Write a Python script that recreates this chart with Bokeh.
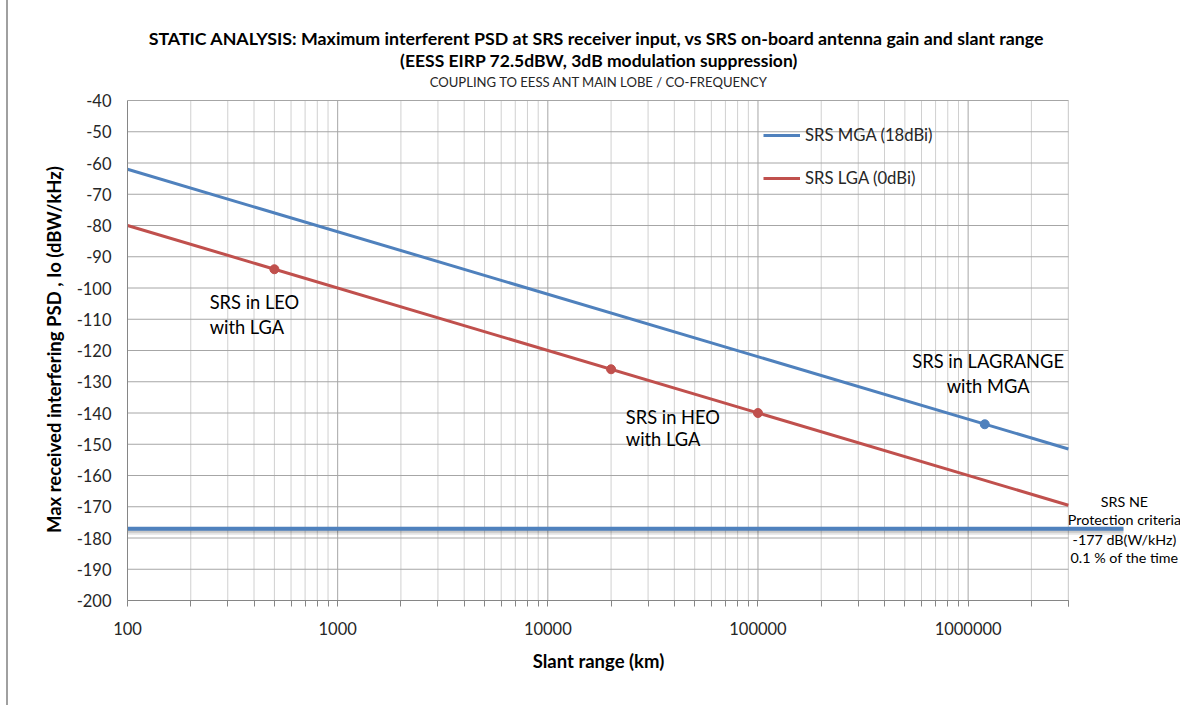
from bokeh.plotting import figure
from bokeh.models import (FixedTicker, Legend, LegendItem, Label, Range1d, InlineStyleSheet)
from bokeh.embed import file_html
from bokeh.resources import INLINE

# ---- data ----
x_range_km = [100, 3000000]
mga_psd = [-62.0, -151.5]
lga_psd = [-80.0, -169.5]
lga_pts_x = [500, 20000, 100000]
lga_pts_y = [-94.0, -126.0, -140.0]
mga_pts_x = [1200000]
mga_pts_y = [-143.6]
protection_level = -177.0
major_x_ticks = [100, 1000, 10000, 100000, 1000000]
x_tick_labels = ["100", "1000", "10000", "100000", "1000000"]
y_ticks = list(range(-200, -30, 10))
y_tick_labels = [str(v) for v in y_ticks]
x_min, x_max = 100, 3000000
y_min, y_max = -200, -40

BLUE = "#4F81BD"
RED = "#C0504D"
FONT = "Lato"
BFONT = "Lato"

minor = []
for d in major_x_ticks:
    for m in range(2, 10):
        if d * m <= x_max:
            minor.append(d * m)
minor.append(x_max)

W, H = 1180, 705
FL, FR, FT, FB = 127, 1067, 100, 600          # plotted area of the chart (pixels)
PX_DEC = (FR - FL) / 4.4771                     # px per decade
PX_UNIT = (FB - FT) / (y_max - y_min)          # px per dB
# extend the frame to the page edges so that titles / side notes can be drawn as labels
x_hi = 10 ** (2 + (W - 1 - FL) / PX_DEC)
y_hi = y_max + (FT - 1) / PX_UNIT

p = figure(width=W, height=H, x_axis_type="log",
           x_range=Range1d(x_min, x_hi), y_range=Range1d(y_min, y_hi),
           output_backend="svg", toolbar_location=None,
           min_border_left=FL, min_border_right=0,
           min_border_top=1, min_border_bottom=H - FB)
p.outline_line_color = None
p.background_fill_color = "white"
p.border_fill_color = "white"
p.grid.visible = False
p.stylesheets = [InlineStyleSheet(css=":host::after { content: ''; position: absolute; left: 6px; top: 0; "
                                      "width: 2px; height: 100%; background: #A0A0A0; pointer-events: none; }")]

def xpx(px):
    return 10 ** (2 + (px - FL) / PX_DEC)

def ypx(py):
    return y_max - (py - FT) / PX_UNIT

# grid lines (drawn only inside the chart's plotted area)
p.segment(x0=minor, y0=[y_min] * len(minor), x1=minor, y1=[y_max] * len(minor),
          line_color="#D0D0D0", line_width=1)
p.segment(x0=major_x_ticks, y0=[y_min] * len(major_x_ticks), x1=major_x_ticks, y1=[y_max] * len(major_x_ticks),
          line_color="#A6A6A6", line_width=1)
p.segment(x0=[x_min] * len(y_ticks), y0=y_ticks, x1=[x_max] * len(y_ticks), y1=y_ticks,
          line_color="#A6A6A6", line_width=1)

# axes
EM = "\u2003"
p.xaxis.ticker = FixedTicker(ticks=major_x_ticks, minor_ticks=minor)
p.xaxis.major_label_overrides = {t: l for t, l in zip(major_x_ticks, x_tick_labels)}
p.xaxis.bounds = (x_min, x_max)
p.yaxis.ticker = FixedTicker(ticks=y_ticks)
p.yaxis.major_label_overrides = {t: l for t, l in zip(y_ticks, y_tick_labels)}
p.yaxis.bounds = (y_min, y_max)
for ax in (p.xaxis, p.yaxis):
    ax.axis_line_color = "#868686"
    ax.major_tick_line_color = "#868686"
    ax.minor_tick_line_color = "#868686"
    ax.major_label_text_font = FONT
    ax.major_label_text_font_size = "16.5px"
    ax.major_label_text_color = "#262626"
    ax.axis_label_text_font = BFONT
    ax.axis_label_text_font_style = "bold"
    ax.axis_label_text_font_size = "18.5px"
    ax.axis_label_text_color = "#000000"
p.xaxis.major_tick_out = 6
p.xaxis.major_tick_in = 0
p.xaxis.minor_tick_out = 6
p.xaxis.minor_tick_in = 0
p.xaxis.major_label_standoff = 15
# trailing em spaces re-centre the label on the chart's plotted area
p.xaxis.axis_label = "Slant range (km)" + EM * 8
p.xaxis.axis_label_standoff = 12
p.yaxis.major_tick_out = 0
p.yaxis.major_tick_in = 0
p.yaxis.minor_tick_out = 0
p.yaxis.minor_tick_in = 0
p.yaxis.major_label_standoff = 16
p.yaxis.axis_label = "Max received interfering PSD , Io (dBW/kHz)" + EM * 7
p.yaxis.axis_label_standoff = 9

# protection level line with soft shadow
px_lo, px_hi = x_min, xpx(1122)
p.line([px_lo, px_hi], [protection_level - 0.8] * 2, line_color="#000000", line_alpha=0.10, line_width=7)
p.line([px_lo, px_hi], [protection_level - 0.5] * 2, line_color="#000000", line_alpha=0.12, line_width=5)
p.line([px_lo, px_hi], [protection_level] * 2, line_color=BLUE, line_width=4)

# series
l1 = p.line(x_range_km, mga_psd, line_color=BLUE, line_width=3)
l2 = p.line(x_range_km, lga_psd, line_color=RED, line_width=3)
p.scatter(lga_pts_x, lga_pts_y, size=9, color=RED)
p.scatter(mga_pts_x, mga_pts_y, size=9, color=BLUE)

legend = Legend(items=[LegendItem(label="SRS MGA (18dBi)", renderers=[l1]),
                       LegendItem(label="SRS LGA (0dBi)", renderers=[l2])],
                location=(636, 412), orientation="vertical",
                glyph_width=37, glyph_height=20, label_height=20, spacing=23,
                label_standoff=5, padding=0, margin=0,
                background_fill_alpha=0, border_line_color=None,
                label_text_font=FONT, label_text_font_size="16.7px", label_text_color="#262626")
p.add_layout(legend)

tx = xpx(598)
p.add_layout(Label(x=tx, y=ypx(37), text="STATIC ANALYSIS: Maximum interferent PSD at SRS receiver input, vs SRS on-board  antenna gain and slant range",
                   text_align="center", text_baseline="middle", text_font=BFONT, text_font_style="bold",
                   text_font_size="17.8px", text_color="#000000"))
p.add_layout(Label(x=tx, y=ypx(60), text="(EESS EIRP 72.5dBW, 3dB modulation suppression)",
                   text_align="center", text_baseline="middle", text_font=BFONT, text_font_style="bold",
                   text_font_size="17.5px", text_color="#000000"))
p.add_layout(Label(x=tx, y=ypx(81), text="COUPLING TO EESS ANT MAIN LOBE / CO-FREQUENCY",
                   text_align="center", text_baseline="middle", text_font=FONT,
                   text_font_size="13.1px", text_color="#262626"))

def note(x, y, txt, size="18.3px", align="left"):
    p.add_layout(Label(x=x, y=y, text=txt, text_align=align, text_baseline="middle",
                       text_font=FONT, text_font_size=size, text_color="#000000"))

note(246, -104.6, "SRS in LEO")
note(246, -112.6, "with LGA")
note(23500, -141.4, "SRS in  HEO")
note(23500, -148.2, "with LGA")
note(1245000, -123.5, "SRS in LAGRANGE", align="center")
note(1245000, -131.2, "with MGA", align="center")

nx = xpx(1123)
note(nx, ypx(501), "SRS NE", size="14.3px", align="center")
note(nx, ypx(519), "Protection criteria", size="14.3px", align="center")
note(nx, ypx(539), "-177 dB(W/kHz)", size="14.3px", align="center")
note(nx, ypx(557), "0.1 % of the time", size="14.3px", align="center")

open("out.html", "w").write(file_html(p, INLINE))
